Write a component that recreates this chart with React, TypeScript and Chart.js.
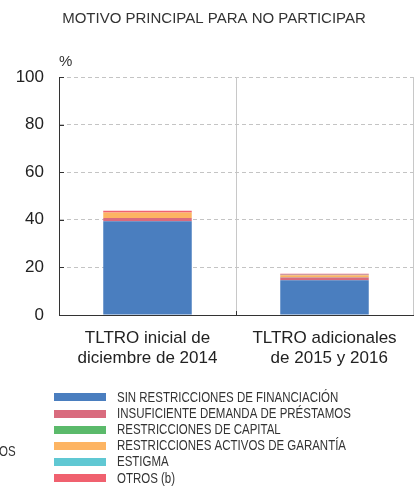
import React, { useEffect, useRef } from "react";
import { Chart, registerables } from "chart.js";

Chart.register(...registerables);

const chartTitle = "MOTIVO PRINCIPAL PARA NO PARTICIPAR";
const unitLabel = "%";
const sideFragment = "OS";

const categories = [
  ["TLTRO inicial de", "diciembre de 2014"],
  ["TLTRO adicionales", "  de 2015 y 2016"],
];

const sinRestricciones = [39.4, 14.6];
const insuficienteDemanda = [1.4, 1.2];
const restriccionesCapital = [0, 0.1];
const restriccionesActivos = [2.3, 0.8];
const estigma = [0, 0.2];
const otros = [0.7, 0.4];

const seriesLabels = [
  "SIN RESTRICCIONES DE FINANCIACIÓN",
  "INSUFICIENTE DEMANDA DE PRÉSTAMOS",
  "RESTRICCIONES DE CAPITAL",
  "RESTRICCIONES ACTIVOS DE GARANTÍA",
  "ESTIGMA",
  "OTROS (b)",
];
const seriesColors = ["#4a7ebf", "#d96b7e", "#5bba6b", "#fdb462", "#60c8d3", "#f0616f"];
const seriesValues = [
  sinRestricciones,
  insuficienteDemanda,
  restriccionesCapital,
  restriccionesActivos,
  estigma,
  otros,
];

const yMin = 0;
const yMax = 100;
const yStep = 20;

const FONT = '"Liberation Sans", Arial, Helvetica, sans-serif';
const CONDENSE = 0.82;

function condensedText(ctx: any, text: string, x: number, y: number) {
  ctx.save();
  ctx.translate(x, y);
  ctx.scale(CONDENSE, 1);
  ctx.fillText(text, 0, 0);
  ctx.restore();
}

const decorPlugin = {
  id: "decor",
  afterDraw(chart: any) {
    const ctx = chart.ctx;
    const area = chart.chartArea;
    const y = chart.scales.y;
    const x = chart.scales.x;
    ctx.save();
    // title
    ctx.fillStyle = "#333";
    ctx.font = `15px ${FONT}`;
    ctx.textAlign = "center";
    ctx.textBaseline = "middle";
    ctx.fillText(chartTitle, 214, 19);
    // unit
    ctx.textAlign = "left";
    ctx.fillText(unitLabel, area.left, 62);
    // inward ticks on y axis
    ctx.strokeStyle = "#333";
    ctx.lineWidth = 1;
    y.ticks.forEach((t: any) => {
      if (t.value === yMin) return;
      const py = Math.round(y.getPixelForValue(t.value)) + 0.5;
      ctx.beginPath();
      ctx.moveTo(area.left, py);
      ctx.lineTo(area.left + 5, py);
      ctx.stroke();
    });
    // inward tick at category boundary
    for (let i = 0; i < categories.length - 1; i++) {
      const px = Math.round((x.getPixelForValue(i) + x.getPixelForValue(i + 1)) / 2) + 0.5;
      ctx.beginPath();
      ctx.moveTo(px, area.bottom);
      ctx.lineTo(px, area.bottom - 4);
      ctx.stroke();
    }
    // legend
    const lx = 54;
    const ly0 = 397.3;
    const dy = 16.2;
    ctx.font = `14px ${FONT}`;
    ctx.textBaseline = "middle";
    ctx.textAlign = "left";
    chart.data.datasets.forEach((ds: any, i: number) => {
      const cy = ly0 + i * dy;
      ctx.fillStyle = ds.backgroundColor;
      ctx.fillRect(lx, Math.round(cy - 4), 52, 8);
      ctx.fillStyle = "#333";
      condensedText(ctx, ds.label, lx + 63, cy + 0.5);
    });
    // fragment of neighbouring panel
    condensedText(ctx, sideFragment, -1, 452);
    ctx.restore();
  },
};

export default function App() {
  const ref = useRef<HTMLCanvasElement | null>(null);
  useEffect(() => {
    if (!ref.current) return;
    const chart = new Chart(ref.current, {
      type: "bar",
      data: {
        labels: categories,
        datasets: seriesValues.map((vals, i) => ({
          label: seriesLabels[i],
          data: vals,
          backgroundColor: seriesColors[i],
          borderWidth: 0,
          barPercentage: 1,
          categoryPercentage: 0.5,
        })),
      },
      options: {
        animation: false,
        responsive: false,
        devicePixelRatio: 1,
        layout: { padding: { left: 0, right: 7, top: 77, bottom: 111 } },
        plugins: {
          legend: { display: false },
          title: { display: false },
          tooltip: { enabled: false },
        },
        scales: {
          x: {
            stacked: true,
            afterFit: (s: any) => {
              s.height = 60;
            },
            grid: {
              color: "#c8c8c8",
              lineWidth: 1,
              offset: true,
              drawTicks: false,
            },
            border: { display: true, color: "#333", width: 1 },
            ticks: {
              color: "#222",
              padding: 13,
              font: { family: FONT, size: 17, lineHeight: 1.2 },
              maxRotation: 0,
              autoSkip: false,
            },
          },
          y: {
            stacked: true,
            min: yMin,
            max: yMax,
            afterFit: (s: any) => {
              s.width = 59;
            },
            grid: {
              color: "#c4c4c4",
              lineWidth: 1,
              drawTicks: false,
            },
            border: { display: true, color: "#333", width: 1, dash: [4, 3] },
            ticks: {
              stepSize: yStep,
              color: "#222",
              padding: 15,
              font: { family: FONT, size: 17 },
            },
          },
        },
      },
      plugins: [decorPlugin],
    });
    return () => chart.destroy();
  }, []);
  return (
    <div style={{ position: "absolute", left: 0, top: 0, width: 420, height: 486 }}>
      <canvas ref={ref} width={420} height={486} style={{ display: "block" }} />
    </div>
  );
}
